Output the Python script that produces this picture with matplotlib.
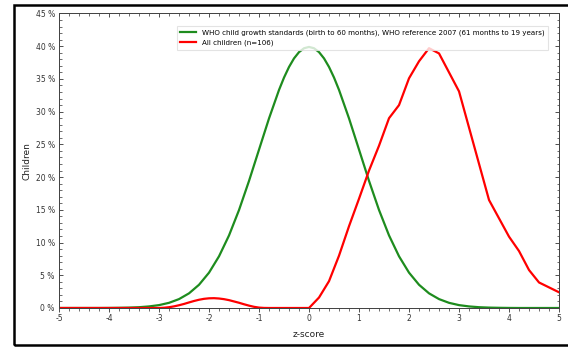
import numpy as np
import matplotlib.pyplot as plt
from matplotlib.patches import Rectangle
from matplotlib.ticker import MultipleLocator, FuncFormatter

# WHO reference curve (% of children per z-score)
who_z = [-5.0, -4.8, -4.6, -4.4, -4.2, -4.0, -3.8, -3.6, -3.4, -3.2, -3.0, -2.8, -2.6, -2.4, -2.2,
         -2.0, -1.8, -1.6, -1.4, -1.2, -1.0, -0.8, -0.6, -0.5, -0.4, -0.3, -0.2, -0.1, 0.0, 0.1,
         0.2, 0.3, 0.4, 0.5, 0.6, 0.8,
         1.0, 1.2, 1.4, 1.6, 1.8, 2.0, 2.2, 2.4, 2.6, 2.8, 3.0, 3.2, 3.4, 3.6, 3.8, 4.0,
         4.2, 4.4, 4.6, 4.8, 5.0]
who_pct = [0.0, 0.0, 0.0, 0.0, 0.0, 0.01, 0.03, 0.06, 0.12, 0.24, 0.44, 0.79, 1.36, 2.24, 3.55,
           5.40, 7.90, 11.09, 14.97, 19.42, 24.20, 28.97, 33.32, 35.21, 36.83, 38.14, 39.10, 39.69, 39.89, 39.69,
           39.10, 38.14, 36.83, 35.21, 33.32, 28.97,
           24.20, 19.42, 14.97, 11.09, 7.90, 5.40, 3.55, 2.24, 1.36, 0.79, 0.44, 0.24, 0.12, 0.06, 0.03, 0.01,
           0.0, 0.0, 0.0, 0.0, 0.0]

# all children (n=106)
kids_z = [-5.0, -3.0, -2.9, -2.8, -2.7, -2.6, -2.5, -2.4, -2.3, -2.2, -2.1, -2.0, -1.9, -1.8, -1.7,
          -1.6, -1.5, -1.4, -1.3, -1.2, -1.1, -1.0, -0.9, -0.8, 0.0, 0.2, 0.4, 0.6, 0.8, 1.0,
          1.2, 1.4, 1.6, 1.8, 2.0, 2.2, 2.4, 2.6, 3.0, 3.6, 4.0, 4.2, 4.4, 4.6, 5.0]
kids_pct = [0.0, 0.0, 0.04, 0.12, 0.25, 0.42, 0.62, 0.85, 1.07, 1.26, 1.40, 1.48, 1.50, 1.45, 1.35,
            1.20, 1.00, 0.80, 0.57, 0.36, 0.18, 0.06, 0.01, 0.0, 0.0, 1.6, 4.1, 8.0, 12.5, 16.7,
            21.0, 24.8, 29.0, 31.0, 35.1, 37.7, 39.7, 38.9, 33.1, 16.5, 10.9, 8.7, 5.8, 3.9, 2.4]

labels = ['WHO child growth standards (birth to 60 months), WHO reference 2007 (61 months to 19 years)',
          'All children (n=106)']

fig = plt.figure(figsize=(5.68, 3.47), dpi=100)
ax = fig.add_axes([0.1039, 0.1124, 0.8803, 0.8487])

ax.plot(who_z, who_pct, color='#1e8c1e', lw=1.6, label=labels[0])
ax.plot(kids_z, kids_pct, color='#ff0000', lw=1.6, label=labels[1])

ax.set_xlim(-5, 5)
ax.set_ylim(0, 45)
ax.xaxis.set_major_locator(MultipleLocator(1))
ax.xaxis.set_minor_locator(MultipleLocator(0.2))
ax.yaxis.set_major_locator(MultipleLocator(5))
ax.yaxis.set_minor_locator(MultipleLocator(1))
ax.yaxis.set_major_formatter(FuncFormatter(lambda v, p: '%d %%' % v))
ax.xaxis.set_major_formatter(FuncFormatter(lambda v, p: '%d' % v))

ax.tick_params(axis='x', which='both', direction='out', labelsize=5.5, colors='#333333', pad=1.5)
ax.tick_params(axis='x', which='major', length=3, width=0.6)
ax.tick_params(axis='x', which='minor', length=2, width=0.5)
ax.tick_params(axis='y', which='both', direction='in', right=True, labelsize=5.5, colors='#333333', pad=3)
ax.tick_params(axis='y', which='major', length=3, width=0.6)
ax.tick_params(axis='y', which='minor', length=1.8, width=0.5)

top = ax.twiny()
top.set_xlim(ax.get_xlim())
top.xaxis.set_major_locator(MultipleLocator(1))
top.xaxis.set_minor_locator(MultipleLocator(0.2))
top.tick_params(axis='x', which='both', direction='in', labeltop=False, colors='#333333')
top.tick_params(axis='x', which='major', length=3, width=0.6)
top.tick_params(axis='x', which='minor', length=1.8, width=0.5)

for a in (ax, top):
    for s in a.spines.values():
        s.set_color('#444444')
        s.set_linewidth(0.7)

ax.set_xlabel('z-score', fontsize=6.5, color='#222222', labelpad=5)
ax.set_ylabel('Children', fontsize=6.5, color='#222222', labelpad=3)

leg = ax.legend(loc='upper left', bbox_to_anchor=(0.228, 0.97), fontsize=5.1, frameon=True,
                fancybox=False, edgecolor='#dddddd', handlelength=2.2, handletextpad=0.8,
                borderpad=0.55, labelspacing=0.45)
leg.get_frame().set_linewidth(0.8)

fig.patches.append(Rectangle((14 / 568, 2 / 347), 560 / 568, 340 / 347, transform=fig.transFigure,
                             fill=False, edgecolor='black', lw=1.8))

fig.savefig('out.png', dpi=100)
